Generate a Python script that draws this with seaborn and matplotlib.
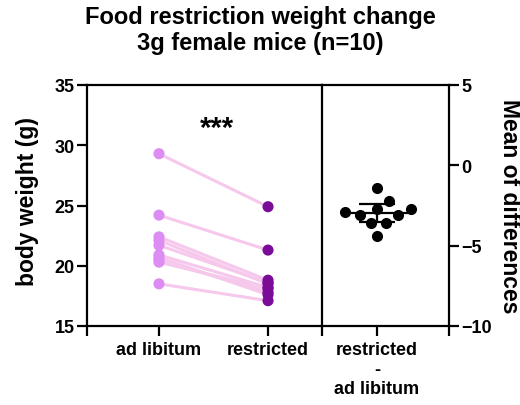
import numpy as np
import pandas as pd
import matplotlib
matplotlib.use("Agg")
import matplotlib.pyplot as plt
import seaborn as sns
from matplotlib.ticker import FixedLocator

# ---- data ----
conditions = ["ad libitum", "restricted"]
ad_libitum = [29.3, 24.2, 22.4, 22.1, 21.7, 20.9, 20.7, 20.5, 20.3, 18.5]
restricted = [24.9, 21.3, 18.8, 18.5, 18.6, 18.2, 17.6, 17.8, 18.1, 17.1]
diff_label = "restricted\n-\nad libitum"
left_yticks = [15, 20, 25, 30, 35]
right_yticks = [-10, -5, 0, 5]
title = "Food restriction weight change\n3g female mice (n=10)"
signif = "***"

# ---- styling ----
sns.set_theme(style="ticks")
plt.rcParams["font.family"] = ["Liberation Sans", "DejaVu Sans"]
plt.rcParams["font.weight"] = "bold"
plt.rcParams["axes.labelweight"] = "bold"
plt.rcParams["text.color"] = "black"
plt.rcParams["axes.labelcolor"] = "black"
plt.rcParams["xtick.color"] = "black"
plt.rcParams["ytick.color"] = "black"
plt.rcParams["xtick.labelcolor"] = "black"
plt.rcParams["ytick.labelcolor"] = "black"

c_ad = "#DC8CF2"
c_re = "#7A0C98"
c_line = "#F6C8EC"
spine_w = 1.6
tick_len = 7
fs_tick = 13
fs_label = 16.5

n = len(ad_libitum)
long = pd.DataFrame({
    "mouse": list(range(n)) * 2,
    "condition": [conditions[0]] * n + [conditions[1]] * n,
    "pos": [0] * n + [1] * n,
    "weight": ad_libitum + restricted,
})
diffs = np.array(restricted) - np.array(ad_libitum)

fig = plt.figure(figsize=(5.2, 4.06), dpi=100)
W, H = 520, 406
ax1 = fig.add_axes([87 / W, 79 / H, 235 / W, 241 / H])
ax2 = fig.add_axes([322 / W, 79 / H, 127 / W, 241 / H])
ax2.set_facecolor("none")

# ---- left panel: paired before/after ----
sns.stripplot(data=long, x="condition", y="weight", hue="condition",
              palette=[c_ad, c_re], jitter=False, size=8, linewidth=0,
              ax=ax1, legend=False, zorder=3)
sns.lineplot(data=long, x="pos", y="weight", units="mouse", estimator=None,
             color=c_line, lw=2.2, ax=ax1, legend=False, zorder=1)
xl1 = (-0.66, 1.495)
ax1.set_xlim(*xl1)
ax1.set_ylim(15, 35)
ax1.set_yticks(left_yticks)
ax1.set_xticks([0, 1])
ax1.set_xticklabels(conditions)
ax1.xaxis.set_minor_locator(FixedLocator(list(xl1)))
ax1.set_xlabel("")
ax1.set_ylabel("body weight (g)", fontsize=fs_label, fontweight="bold", va="center")
ax1.yaxis.set_label_coords(-0.255, 0.52)
ax1.text(0.53, 31.4, signif, ha="center", va="center", fontsize=21, fontweight="bold")

# ---- right panel: differences ----
xl2 = (-0.433, 0.567)
ax2.set_xlim(*xl2)
ax2.set_ylim(-10, 5)
# swarm laid out with a slightly wider (Prism-like) spacing, then markers shown smaller
sns.swarmplot(x=[diff_label] * n, y=diffs, color="black", size=10, linewidth=0,
              ax=ax2, zorder=3)
ax2.set_xlim(*xl2)
ax2.set_ylim(-10, 5)
fig.canvas.draw()
pts = ax2.collections[0]
if "draw" in pts.__dict__:
    del pts.draw
pts.set_sizes([8 ** 2])

m = diffs.mean()
se = diffs.std(ddof=1) / np.sqrt(n)
half = 2.262 * se
ax2.hlines(m, -0.28, 0.28, color="black", lw=1.6, zorder=2)
ax2.hlines([m - half, m + half], -0.14, 0.14, color="black", lw=1.6, zorder=2)
ax2.vlines(0, m - half, m + half, color="black", lw=1.6, zorder=2)
ax2.set_yticks(right_yticks)
ax2.xaxis.set_minor_locator(FixedLocator([xl2[1]]))
ax2.yaxis.tick_right()
ax2.yaxis.set_label_position("right")
ax2.set_ylabel("Mean of differences", fontsize=fs_label, fontweight="bold",
               rotation=270, va="center")
ax2.yaxis.set_label_coords(1.48, 0.5)
ax2.set_xlabel("")

for ax in (ax1, ax2):
    for s in ax.spines.values():
        s.set_linewidth(spine_w)
        s.set_color("black")
        s.set_visible(True)
    ax.tick_params(which="both", length=tick_len, width=spine_w, color="black",
                   labelsize=fs_tick, pad=2, labelcolor="black")
    ax.tick_params(axis="x", which="major", pad=4)
    for lab in ax.get_xticklabels() + ax.get_yticklabels():
        lab.set_fontweight("bold")
ax2.spines["left"].set_visible(False)
ax2.tick_params(axis="y", left=False, right=True)
ax1.tick_params(axis="y", left=True, right=False)

fig.text(0.5, 1 - 6 / H, title, ha="center", va="top", fontsize=17,
         fontweight="bold", linespacing=1.15, color="black")

fig.savefig("out.png", dpi=100)
